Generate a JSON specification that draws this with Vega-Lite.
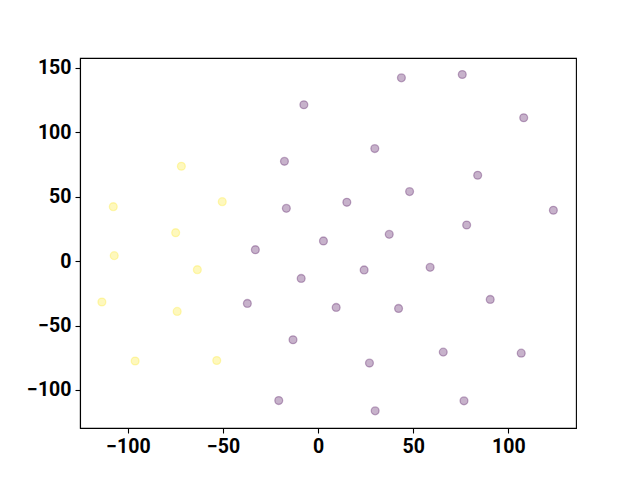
{
  "$schema": "https://vega.github.io/schema/vega-lite/v6.json",
  "width": 496,
  "height": 370,
  "autosize": {"type": "none"},
  "padding": {"left": 80, "top": 58, "right": 64, "bottom": 52},
  "background": "white",
  "config": {
    "view": {"stroke": "black", "strokeWidth": 1.1},
    "axis": {
      "grid": false,
      "domainColor": "black",
      "domainWidth": 1.1,
      "tickColor": "black",
      "tickWidth": 1.1,
      "tickSize": 5,
      "labelPadding": 4,
      "labelFont": "Roboto",
      "labelFontWeight": "bold",
      "labelFontSize": 19.5,
      "labelColor": "black",
      "title": null
    }
  },
  "data": {
    "values": [
      {"x": 43.8, "y": 142.3, "g": "a"},
      {"x": 75.8, "y": 144.9, "g": "a"},
      {"x": -7.5, "y": 121.4, "g": "a"},
      {"x": 108.1, "y": 111.3, "g": "a"},
      {"x": 29.8, "y": 87.4, "g": "a"},
      {"x": -17.7, "y": 77.5, "g": "a"},
      {"x": 83.9, "y": 66.7, "g": "a"},
      {"x": 48.1, "y": 54.0, "g": "a"},
      {"x": 15.1, "y": 45.7, "g": "a"},
      {"x": -16.7, "y": 41.0, "g": "a"},
      {"x": 123.7, "y": 39.5, "g": "a"},
      {"x": 78.1, "y": 28.1, "g": "a"},
      {"x": 37.4, "y": 20.8, "g": "a"},
      {"x": 2.8, "y": 15.7, "g": "a"},
      {"x": -33.0, "y": 8.9, "g": "a"},
      {"x": 58.9, "y": -4.8, "g": "a"},
      {"x": 24.2, "y": -6.8, "g": "a"},
      {"x": -8.9, "y": -13.4, "g": "a"},
      {"x": 90.5, "y": -29.7, "g": "a"},
      {"x": -37.2, "y": -32.8, "g": "a"},
      {"x": 9.5, "y": -35.9, "g": "a"},
      {"x": 42.3, "y": -36.7, "g": "a"},
      {"x": -13.2, "y": -61.0, "g": "a"},
      {"x": 65.8, "y": -70.6, "g": "a"},
      {"x": 106.8, "y": -71.4, "g": "a"},
      {"x": 27.0, "y": -79.1, "g": "a"},
      {"x": -20.7, "y": -108.2, "g": "a"},
      {"x": 76.7, "y": -108.4, "g": "a"},
      {"x": 30.0, "y": -116.2, "g": "a"},
      {"x": -71.9, "y": 73.7, "g": "b"},
      {"x": -107.7, "y": 42.3, "g": "b"},
      {"x": -50.4, "y": 46.2, "g": "b"},
      {"x": -74.9, "y": 22.1, "g": "b"},
      {"x": -107.2, "y": 4.3, "g": "b"},
      {"x": -63.5, "y": -6.6, "g": "b"},
      {"x": -113.7, "y": -31.7, "g": "b"},
      {"x": -74.1, "y": -39.0, "g": "b"},
      {"x": -96.2, "y": -77.5, "g": "b"},
      {"x": -53.3, "y": -77.1, "g": "b"}
    ]
  },
  "mark": {"type": "point", "filled": false, "shape": "circle", "size": 62, "strokeWidth": 1.3, "fillOpacity": 0.3, "strokeOpacity": 0.3},
  "encoding": {
    "x": {
      "field": "x",
      "type": "quantitative",
      "scale": {"domain": [-125.2, 135.6], "nice": false, "zero": false},
      "axis": {"values": [-100, -50, 0, 50, 100]}
    },
    "y": {
      "field": "y",
      "type": "quantitative",
      "scale": {"domain": [-129.5, 157.7], "nice": false, "zero": false},
      "axis": {"values": [-100, -50, 0, 50, 100, 150]}
    },
    "fill": {
      "field": "g",
      "type": "nominal",
      "scale": {"domain": ["a", "b"], "range": ["#440154", "#fde725"]},
      "legend": null
    },
    "stroke": {
      "field": "g",
      "type": "nominal",
      "scale": {"domain": ["a", "b"], "range": ["#440154", "#fde725"]},
      "legend": null
    }
  }
}
